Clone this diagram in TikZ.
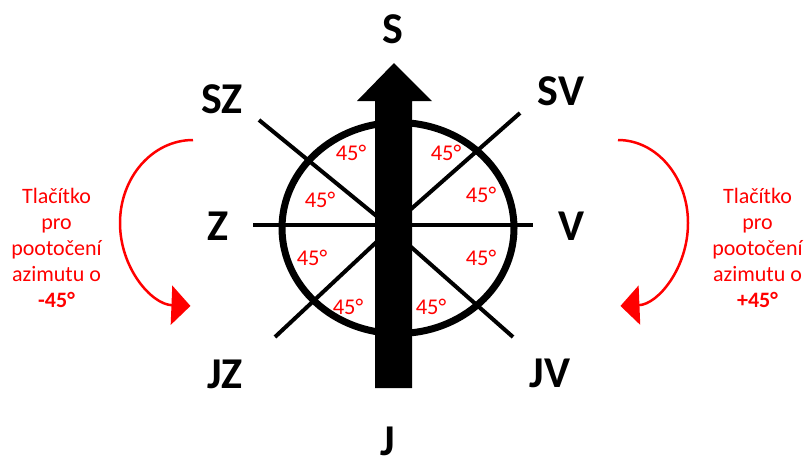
\documentclass[tikz,border=0pt]{standalone}
\usepackage{fontspec}
\setmainfont{Carlito}
\usetikzlibrary{arrows.meta}

\begin{document}
\begin{tikzpicture}[x=1pt, y=-1pt, dirlabel/.style={font=\fontsize{44}{44}\selectfont\bfseries, inner sep=0pt, anchor=base}, anglabel/.style={text=red, font=\fontsize{22.5}{22.5}\selectfont, inner sep=0pt, anchor=base}, btntext/.style={text=red, align=center, font=\fontsize{22}{26}\selectfont, inner sep=0pt}, rotarr/.style={red, line width=2.5pt, -{Triangle[length=19pt, width=39pt]}}, axisline/.style={line width=4pt}]
\useasboundingbox (0,0) rectangle (806,467);
\draw[line width=7pt] (398,228) ellipse [x radius=116, y radius=105.5];
\draw[axisline] (253,224.5) -- (533,224.5);
\draw[axisline] (259,120) -- (385,223);
\draw[axisline] (520,113) -- (402,217);
\draw[axisline] (275,337) -- (385,234);
\draw[axisline] (513,337) -- (402,239);
\fill (375,388) -- (375,101) -- (357,101) -- (394,63) -- (432,101) -- (412,101) -- (412,388) -- cycle;
\node[dirlabel] (s) at (393,43) {S};
\node[dirlabel] (sz) at (222,113) {SZ};
\node[dirlabel] (sv) at (561,105) {SV};
\node[dirlabel] (z) at (218.5,240) {Z};
\node[dirlabel] (v) at (572,240) {V};
\node[dirlabel] (jz) at (225,388) {JZ};
\node[dirlabel] (jv) at (550,387) {JV};
\node[dirlabel] (j) at (387.5,455) {J};
\node[anglabel] (a1) at (351,160) {45°};
\node[anglabel] (a2) at (446,160) {45°};
\node[anglabel] (a3) at (320,207) {45°};
\node[anglabel] (a4) at (481,202) {45°};
\node[anglabel] (a5) at (312,265) {45°};
\node[anglabel] (a6) at (481,265) {45°};
\node[anglabel] (a7) at (348,314) {45°};
\node[anglabel] (a8) at (431,314) {45°};
\node[btntext] (minus) at (56.5,247.5) {Tlačítko\\pro\\pootočení\\azimutu o\\\textbf{-45°}};
\node[btntext] (plus) at (757.5,247.5) {Tlačítko\\pro\\pootočení\\azimutu o\\\textbf{+45°}};
\coordinate (lstart) at (193,140);
\coordinate (rstart) at (618,140);
\draw[rotarr] (lstart) arc[start angle=270, end angle=92, x radius=73, y radius=83];
\draw[rotarr] (rstart) arc[start angle=270, end angle=448, x radius=70, y radius=83];
\end{tikzpicture}
\end{document}
